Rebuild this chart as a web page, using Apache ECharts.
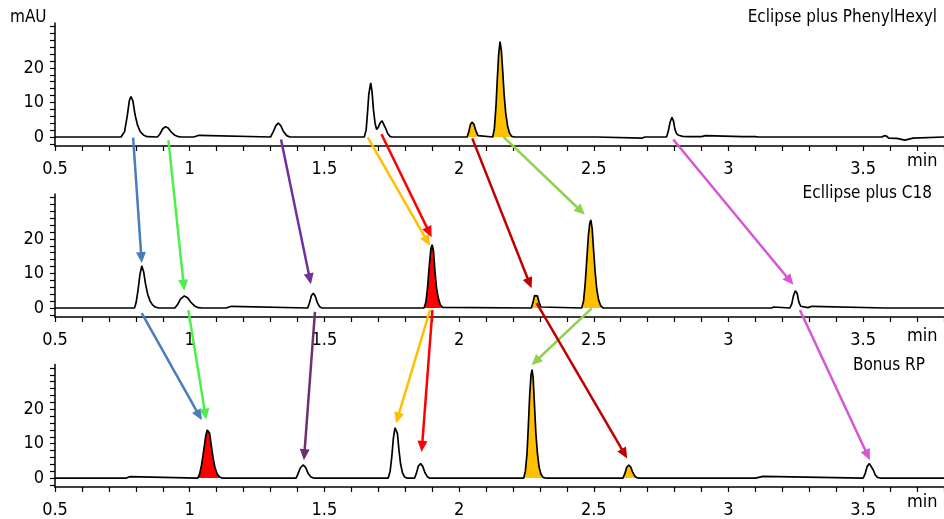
<!DOCTYPE html>
<html>
<head>
<meta charset="utf-8">
<script src="https://cdn.jsdelivr.net/npm/echarts@6/dist/echarts.min.js"></script>
<style>html,body{margin:0;padding:0;background:#fff;}#main{width:944px;height:519px;}</style>
</head>
<body>
<div id="main"></div>
<script>
// ---------- DATA ----------
const panelTitles = ['Eclipse plus PhenylHexyl', 'Ecllipse plus C18', 'Bonus RP'];
const yUnit = 'mAU';
const xUnit = 'min';
const xTickLabels = [0.5, 1, 1.5, 2, 2.5, 3, 3.5];
const xMinorTicks = [0.5,0.6,0.7,0.8,0.9,1.0,1.1,1.2,1.3,1.4,1.5,1.6,1.7,1.8,1.9,2.0,2.1,2.2,2.3,2.4,2.5,2.6,2.7,2.8,2.9,3.0,3.1,3.2,3.3,3.4,3.5,3.6,3.7,3.8];
const yTickLabels = [0, 10, 20];
const yMinorTicks = [-2,0,2,4,6,8,10,12,14,16,18,20,22,24,26,28,30,32];

// Chromatogram traces [min, mAU]
const tracePhenylHexyl = [
  [0.50,0],[0.745,0],[0.758,1.5],[0.768,6],[0.776,10.5],[0.782,11.7],[0.789,10.5],[0.797,6.5],[0.806,3.5],[0.816,1.6],[0.828,0.6],[0.842,0.1],[0.880,0],
  [0.889,0.8],[0.900,2.4],[0.910,3.0],[0.920,2.6],[0.932,1.4],[0.945,0.5],[0.958,0.1],[0.970,0],
  [1.015,0],[1.018,0.5],[1.035,0.5],[1.038,0],
  [1.300,0],[1.310,1.5],[1.320,3.3],[1.329,4.0],[1.338,3.3],[1.348,1.6],[1.360,0.4],[1.372,0],
  [1.648,0],[1.655,2],[1.660,7],[1.665,12.5],[1.672,15.7],[1.677,13],[1.682,8],[1.688,4],[1.694,2.2],
  [1.700,2.8],[1.707,4.1],[1.714,4.7],[1.720,4.2],[1.727,2.6],[1.735,1.0],[1.743,0.2],[1.752,0],
  [2.030,0],[2.036,1.5],[2.042,3.6],[2.048,4.3],[2.055,3.7],[2.062,1.9],[2.070,0.4],[2.076,0],
  [2.125,0],[2.131,2.5],[2.137,9],[2.142,17],[2.147,24],[2.152,27.6],[2.157,25],[2.162,19],[2.167,12.5],[2.173,7],[2.180,3.2],[2.187,1.2],[2.195,0.2],[2.205,0],
  [2.510,0],[2.515,-0.3],[2.680,-0.3],[2.690,0],
  [2.770,0],[2.776,1.5],[2.783,4.2],[2.790,5.7],[2.796,4.6],[2.801,2.3],[2.807,1.0],[2.815,0.5],[2.830,0.2],[2.850,0.1],
  [2.900,0.1],[2.903,0.4],[2.915,0.4],[2.918,0.1],[3.050,0.1],[3.100,0.1],[3.110,0],
  [3.570,0],[3.578,0.4],[3.586,0.3],[3.595,-0.3],[3.625,-0.4],[3.630,-0.9],[3.655,-0.9],[3.660,-0.4],[3.685,-0.3],[3.690,0],[3.80,0]
];
const traceC18 = [
  [0.50,0],[0.795,0],[0.801,1.5],[0.808,5],[0.815,9.5],[0.822,12.2],[0.829,10.5],[0.836,7],[0.844,4],[0.853,2],[0.862,0.9],[0.872,0.3],[0.885,0],
  [0.945,0],[0.955,1.0],[0.966,2.6],[0.980,3.5],[0.992,3.0],[1.005,1.6],[1.018,0.6],[1.032,0.1],[1.045,0],
  [1.135,0],[1.138,0.5],[1.155,0.5],[1.158,0],
  [1.438,0],[1.445,1.6],[1.452,3.6],[1.459,4.3],[1.466,3.4],[1.474,1.5],[1.483,0.3],[1.492,0],
  [1.870,0],[1.877,1.8],[1.883,6],[1.889,12],[1.895,17],[1.900,18.3],[1.905,16.5],[1.910,11],[1.916,6],[1.923,2.8],[1.930,1.0],[1.938,0.2],[1.945,0],
  [2.268,0],[2.274,1.5],[2.280,3.6],[2.285,4.1],[2.291,3.5],[2.297,1.6],[2.304,0.3],[2.310,0],
  [2.455,0],[2.462,2],[2.468,7],[2.474,14],[2.480,21],[2.485,24.5],[2.489,25.5],[2.494,23],[2.499,17],[2.505,10.5],[2.511,5.5],[2.518,2.3],[2.526,0.6],[2.535,0],
  [3.160,0],[3.162,0.3],[3.168,0.3],[3.170,0],
  [3.228,0],[3.235,1.2],[3.241,3.5],[3.248,5.0],[3.255,4.2],[3.261,1.8],[3.268,0.5],[3.275,0.1],[3.295,0.1],[3.298,0.5],[3.310,0.5],[3.313,0],
  [3.584,0],[3.587,0.3],[3.590,0],[3.80,0]
];
const traceBonusRP = [
  [0.50,0],[0.765,0],[0.767,0.4],[0.777,0.4],[0.779,0],
  [1.030,0],[1.037,1.2],[1.044,3.8],[1.052,8],[1.059,12],[1.065,14],[1.069,14.4],[1.074,13],[1.080,9.5],[1.087,5.8],[1.094,3],[1.102,1.2],[1.111,0.3],[1.120,0],
  [1.395,0],[1.402,1.2],[1.411,3],[1.421,3.8],[1.430,3.1],[1.440,1.3],[1.450,0.3],[1.460,0],
  [1.737,0],[1.744,2],[1.750,6],[1.756,11.5],[1.762,14.6],[1.766,15.1],[1.771,13],[1.777,8],[1.783,4],[1.790,1.5],[1.798,0.3],[1.806,0],
  [1.835,0],[1.842,1.5],[1.849,3.5],[1.857,4.2],[1.865,3.4],[1.873,1.6],[1.882,0.4],[1.890,0],
  [2.240,0],[2.246,2],[2.252,7],[2.257,15],[2.262,24],[2.267,30],[2.271,31.5],[2.275,29],[2.280,21],[2.285,13],[2.291,7],[2.297,3.2],[2.304,1.1],[2.312,0.2],[2.320,0],
  [2.608,0],[2.615,1.2],[2.622,3.1],[2.630,3.8],[2.637,3.2],[2.644,1.8],[2.651,0.7],[2.659,0.1],[2.668,0],
  [3.100,0],[3.102,0.5],[3.128,0.5],[3.130,0],
  [3.500,0],[3.507,1.2],[3.515,3.4],[3.523,4.2],[3.530,3.9],[3.537,2.4],[3.545,0.9],[3.553,0.2],[3.562,0],[3.80,0]
];
const traces = [tracePhenylHexyl, traceC18, traceBonusRP];

// Filled peaks: [from min, to min, colour]
const fillsPhenylHexyl = [[2.030, 2.076, '#ffc000'], [2.125, 2.205, '#ffc000']];
const fillsC18 = [[1.870, 1.945, '#ff0000'], [2.268, 2.310, '#ffc000'], [2.455, 2.535, '#ffc000']];
const fillsBonusRP = [[1.030, 1.120, '#ff0000'], [2.240, 2.320, '#ffc000'], [2.608, 2.668, '#ffc000']];
const fills = [fillsPhenylHexyl, fillsC18, fillsBonusRP];

// Arrows: [fromPanel, fromMin, fromMAU, toPanel, toMin, toMAU, colour]
const arrows = [
  [0, 0.790, -0.2, 1, 0.822, 13.0, '#4a7ebb'],
  [0, 0.921, -0.9, 1, 0.980, 5.0, '#4cf04c'],
  [0, 1.339, -0.7, 1, 1.450, 6.9, '#7030a0'],
  [0, 1.661, -0.1, 1, 1.892, 18.0, '#ffc000'],
  [0, 1.712, 0.8, 1, 1.898, 20.5, '#ff0000'],
  [0, 2.049, -0.4, 1, 2.269, 5.7, '#c00000'],
  [0, 2.164, 0.1, 1, 2.467, 27.0, '#92d050'],
  [0, 2.795, -0.7, 1, 3.241, 6.7, '#d656d6'],
  [1, 0.822, -1.5, 2, 1.045, 16.8, '#4a7ebb'],
  [1, 0.995, -0.6, 2, 1.061, 17.0, '#4cf04c'],
  [1, 1.465, -1.1, 2, 1.424, 5.2, '#70306e'],
  [1, 1.892, -0.6, 2, 1.766, 15.9, '#ffc000'],
  [1, 1.901, -0.6, 2, 1.861, 7.6, '#ff0000'],
  [1, 2.492, -0.1, 2, 2.269, 32.8, '#92d050'],
  [1, 2.288, 1.4, 2, 2.624, 5.7, '#c00000'],
  [1, 3.265, -0.6, 2, 3.525, 5.2, '#d656d6']
];

// ---------- CHART ----------
const FONT = "'DejaVu Sans Condensed', 'Liberation Sans Narrow', sans-serif";
const FS = 18;
const TFS = 17;
const gridTops = [23, 194, 364.5];
const chart = echarts.init(document.getElementById('main'), null, {renderer: 'canvas'});

const grid = [], xAxis = [], yAxis = [], series = [];
for (let i = 0; i < 3; i++) {
  grid.push({left: 55, right: 0, top: gridTops[i], height: 123});
  xAxis.push({
    gridIndex: i, type: 'value', min: 0.5, max: 3.8,
    axisLine: {onZero: false, lineStyle: {color: '#000', width: 1.5}},
    axisTick: {customValues: xMinorTicks, length: 5, lineStyle: {color: '#000', width: 1.2}},
    axisLabel: {customValues: xTickLabels, color: '#000', fontSize: FS, fontFamily: FONT, margin: 14,
      formatter: v => String(v)},
    splitLine: {show: false}
  });
  yAxis.push({
    gridIndex: i, type: 'value', min: -2.6, max: 33,
    axisLine: {show: true, onZero: false, lineStyle: {color: '#000', width: 1.5}},
    axisTick: {show: true, customValues: yMinorTicks, length: 5, lineStyle: {color: '#000', width: 1.2}},
    axisLabel: {customValues: yTickLabels, color: '#000', fontSize: FS, fontFamily: FONT, margin: 11},
    splitLine: {show: false}
  });
  fills[i].forEach(f => {
    series.push({
      type: 'line', xAxisIndex: i, yAxisIndex: i, symbol: 'none', silent: true, z: 2,
      data: traces[i].filter(p => p[0] >= f[0] && p[0] <= f[1]),
      lineStyle: {width: 0, color: f[2]}, areaStyle: {color: f[2], opacity: 1}
    });
  });
  series.push({
    type: 'line', xAxisIndex: i, yAxisIndex: i, symbol: 'none', silent: true, z: 3,
    data: traces[i], lineStyle: {color: '#000', width: 1.7}
  });
}

const tf = TFS + 'px ' + FONT;
const uf = FS + 'px ' + FONT;
const texts = [
  {type: 'text', right: 7, top: 9, style: {text: panelTitles[0], font: tf, fill: '#000'}},
  {type: 'text', right: 12, top: 185, style: {text: panelTitles[1], font: tf, fill: '#000'}},
  {type: 'text', left: 853, top: 357, style: {text: panelTitles[2], font: tf, fill: '#000'}},
  {type: 'text', left: 10, top: 9, style: {text: yUnit, font: tf, fill: '#000'}},
  {type: 'text', left: 907, top: 152, style: {text: xUnit, font: uf, fill: '#000'}},
  {type: 'text', left: 907, top: 327, style: {text: xUnit, font: uf, fill: '#000'}},
  {type: 'text', left: 907, top: 493, style: {text: xUnit, font: uf, fill: '#000'}}
];

chart.setOption({animation: false, backgroundColor: '#fff', grid, xAxis, yAxis, series, graphic: texts});

// arrows via axis conversion
const arrowGraphics = [];
arrows.forEach(a => {
  const p0 = chart.convertToPixel({gridIndex: a[0]}, [a[1], a[2]]);
  const p1 = chart.convertToPixel({gridIndex: a[3]}, [a[4], a[5]]);
  const dx = p1[0] - p0[0], dy = p1[1] - p0[1];
  const len = Math.sqrt(dx * dx + dy * dy);
  const ux = dx / len, uy = dy / len;
  const hl = 11, hw = 5;
  const bx = p1[0] - ux * hl, by = p1[1] - uy * hl;
  arrowGraphics.push({
    type: 'line', z: 10, silent: true,
    shape: {x1: p0[0], y1: p0[1], x2: bx + ux * 2, y2: by + uy * 2},
    style: {stroke: a[6], lineWidth: 2.5}
  });
  arrowGraphics.push({
    type: 'polygon', z: 10, silent: true,
    shape: {points: [[p1[0], p1[1]], [bx - uy * hw, by + ux * hw], [bx + uy * hw, by - ux * hw]]},
    style: {fill: a[6]}
  });
});
chart.setOption({graphic: texts.concat(arrowGraphics)});
</script>
</body>
</html>
